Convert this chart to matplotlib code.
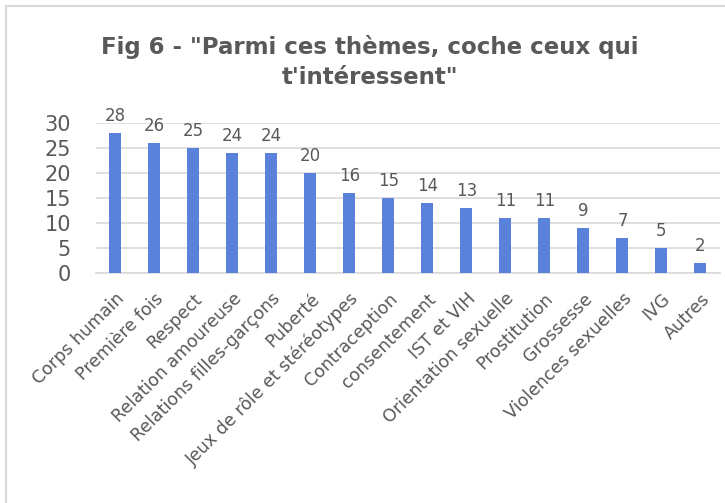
import matplotlib.pyplot as plt
import matplotlib.patches as mpatches

themes = ["Corps humain", "Première fois", "Respect", "Relation amoureuse",
          "Relations filles-garçons", "Puberté", "Jeux de rôle et stéréotypes",
          "Contraception", "consentement", "IST et VIH", "Orientation sexuelle",
          "Prostitution", "Grossesse", "Violences sexuelles", "IVG", "Autres"]
counts = [28, 26, 25, 24, 24, 20, 16, 15, 14, 13, 11, 11, 9, 7, 5, 2]
yticks = [0, 5, 10, 15, 20, 25, 30]

txt = "#595959"
fig = plt.figure(figsize=(7.25, 5.03), dpi=100)
fig.patches.append(mpatches.Rectangle((6 / 725, -0.1), 1.2, (503 - 6) / 503 + 0.1,
                                      transform=fig.transFigure, fill=False,
                                      edgecolor="#d9d9d9", lw=1.5))

ax = fig.add_axes([0.132, 0.457, 0.861, 0.298])
x = range(len(themes))
bars = ax.bar(x, counts, width=0.31, color="#5a82db", zorder=3)
for xi, v in zip(x, counts):
    ax.text(xi, v + 1.6, str(v), ha="center", va="bottom", fontsize=12, color=txt)

ax.set_ylim(0, 30)
ax.set_xlim(-0.5, len(themes) - 0.5)
ax.set_yticks(yticks)
ax.set_yticklabels([str(t) for t in yticks], fontsize=15, color=txt)
ax.set_xticks(list(x))
ax.set_xticklabels(themes, rotation=45, ha="right", rotation_mode="anchor",
                   fontsize=12.5, color=txt)
ax.tick_params(axis="x", length=0, pad=12)
ax.tick_params(axis="y", length=0, pad=18)
ax.yaxis.grid(True, color="#d9d9d9", lw=1.2, zorder=0)
for s in ["top", "right", "left"]:
    ax.spines[s].set_visible(False)
ax.spines["bottom"].set_color("#d9d9d9")
ax.spines["bottom"].set_linewidth(1.2)

fig.text(0.51, 0.877, "Fig 6 - \"Parmi ces thèmes, coche ceux qui\nt'intéressent\"",
         ha="center", va="center", fontsize=16.5, fontweight="bold", color=txt,
         linespacing=1.4)

fig.savefig("out.png", dpi=100)
